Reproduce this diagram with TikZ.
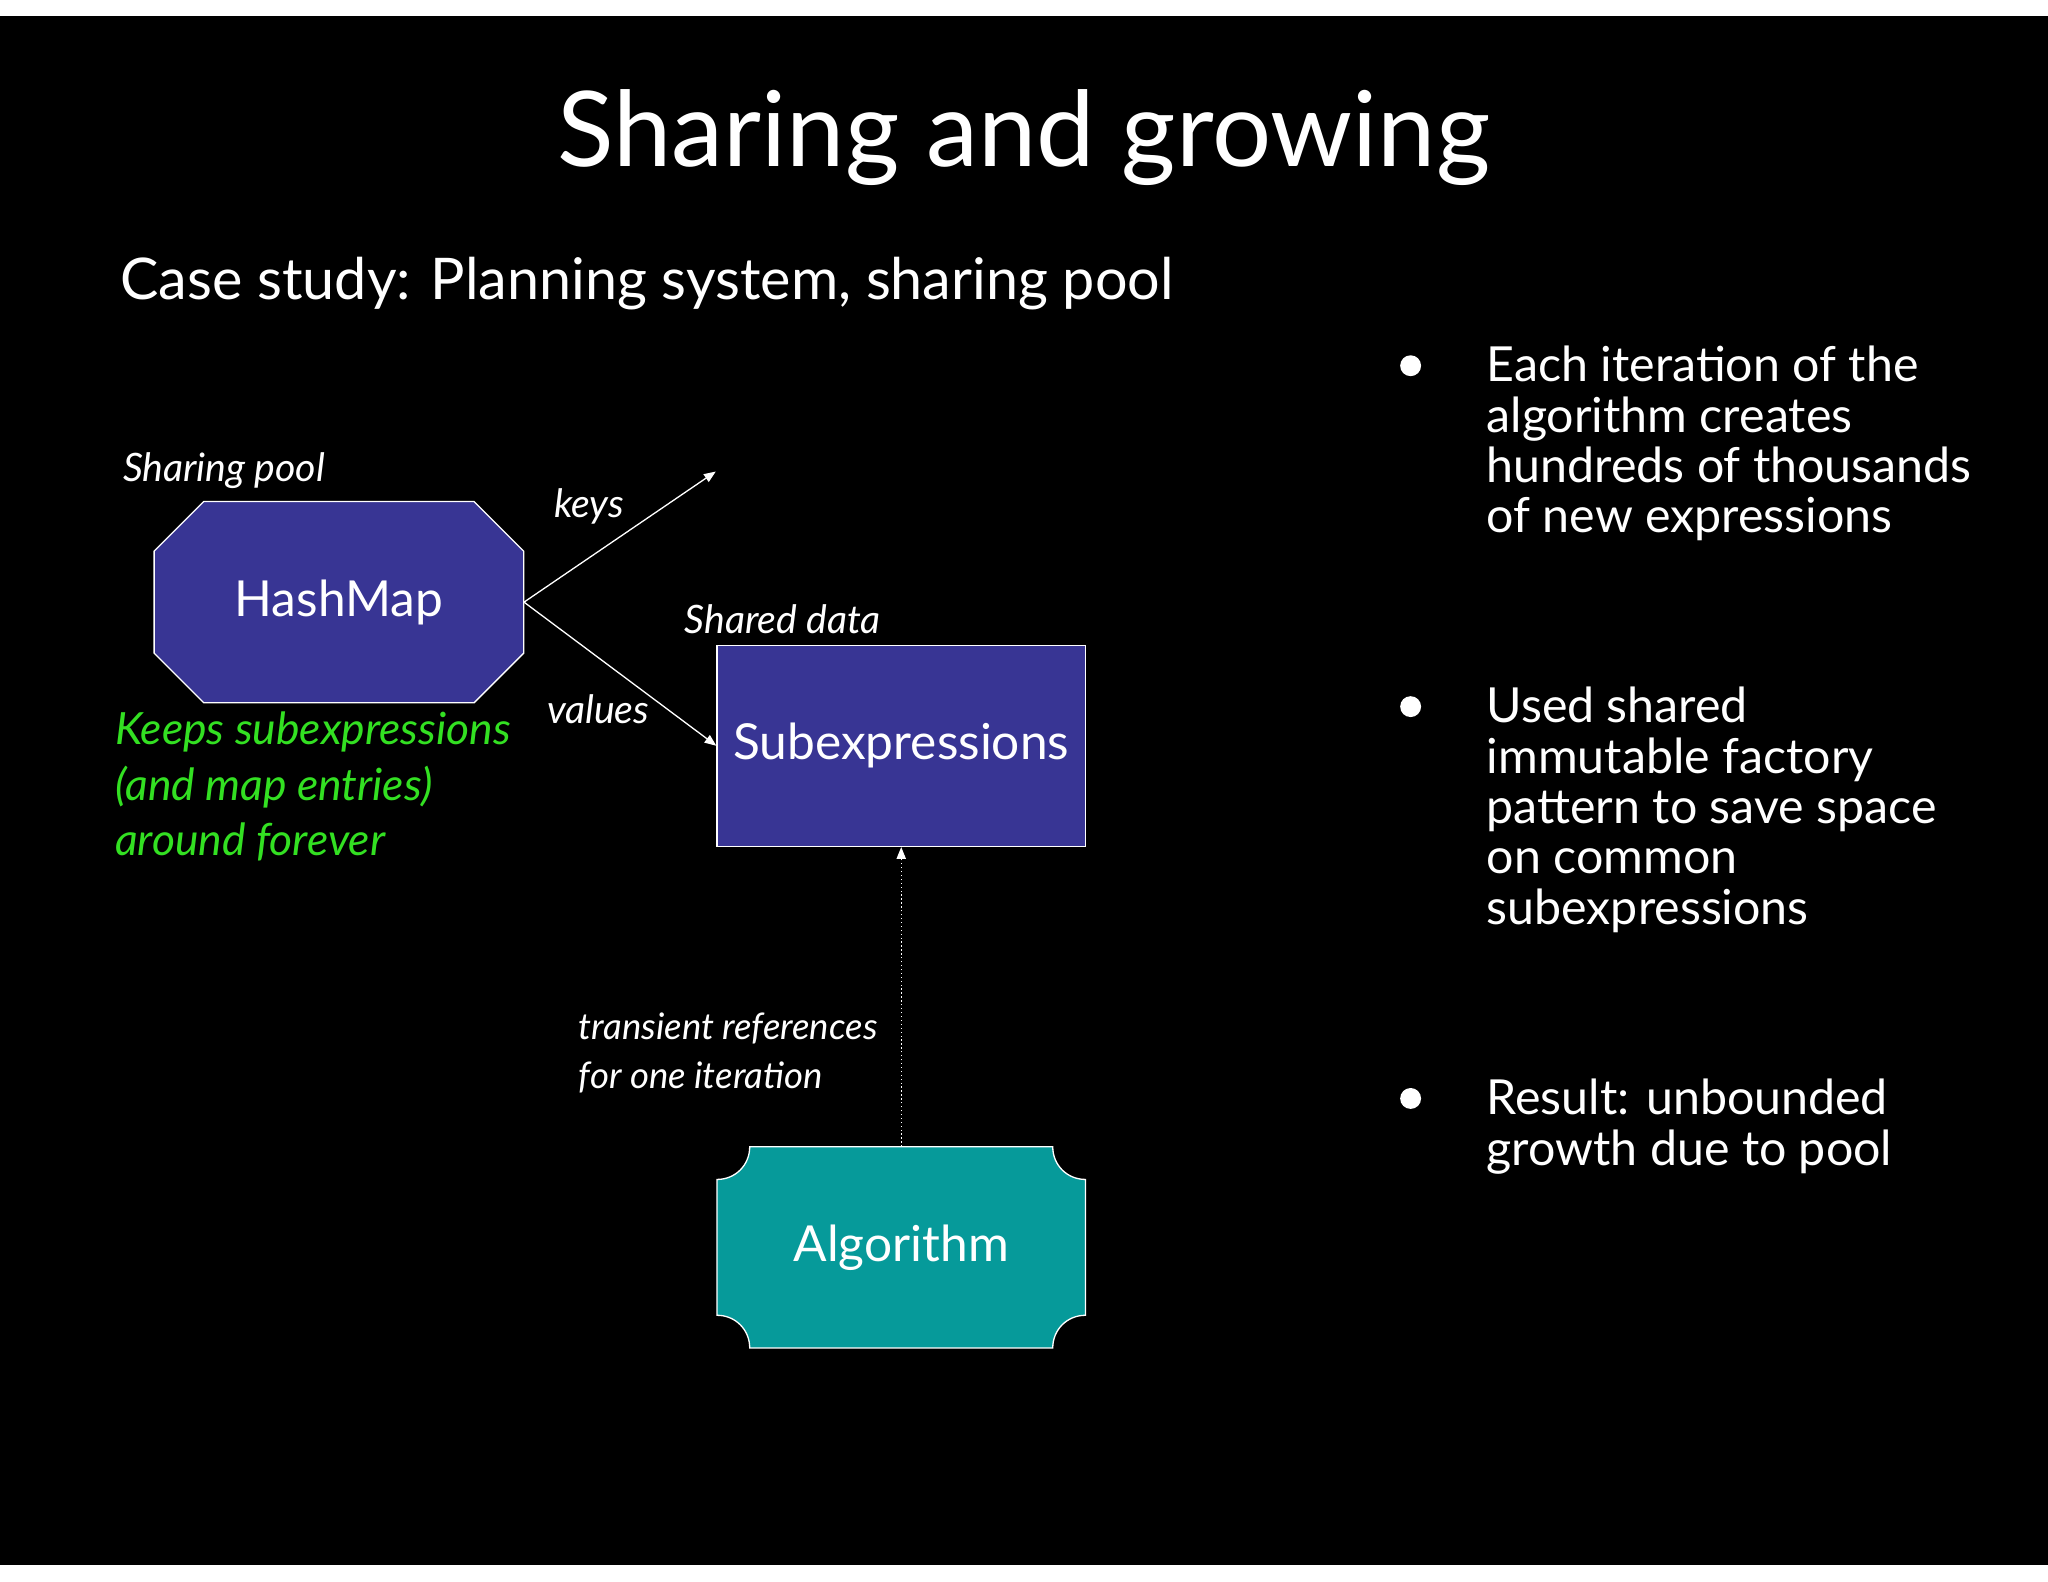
\documentclass[tikz,border=0pt]{standalone}
\usepackage{fontspec}
\setmainfont{Lato}
\usetikzlibrary{arrows.meta}
\definecolor{navy}{HTML}{383594}
\definecolor{teal2}{HTML}{069A9A}
\definecolor{grn}{HTML}{33E022}
\begin{document}
\begin{tikzpicture}[x=1pt,y=-1pt,
  lbl/.style={text=white,font=\fontsize{30}{34}\selectfont\itshape,inner sep=0pt},
  bul/.style={text=white,font=\fontsize{37}{38.5}\selectfont,anchor=north west,align=left,inner sep=0pt},
  arr/.style={white,line width=1pt,-{Triangle[length=9pt,width=7pt]}}]
\useasboundingbox (0,0) rectangle (1568,1211);
\fill[white] (0,0) rectangle (1568,1211);
\fill[black] (0,12) rectangle (1568,1198);
\node[text=white,font=\fontsize{80}{80}\selectfont] (title) at (784,105) {Sharing and growing};
\node[text=white,font=\fontsize{44}{44}\selectfont,anchor=west,inner sep=0pt] (sub) at (92,217) {Case study: Planning system, sharing pool};
% HashMap octagon
\draw[white,fill=navy,line width=1pt] (156,384)--(363,384)--(401,422)--(401,500)--(363,538)--(156,538)--(118,500)--(118,422)--cycle;
\node[text=white,font=\fontsize{38}{38}\selectfont,minimum width=283pt,minimum height=154pt,inner sep=0pt] (hm) at (259.5,461) {HashMap};
\node[lbl,anchor=west] (sp) at (94,360) {Sharing pool};
% Subexpressions
\node[draw=white,fill=navy,line width=1pt,text=white,font=\fontsize{38}{38}\selectfont,minimum width=282pt,minimum height=154pt,inner sep=0pt] (se) at (690,571) {Subexpressions};
\node[lbl,anchor=west] (sd) at (524,474) {Shared data};
\coordinate (kend) at (548,361);
\draw[arr] (hm.east) -- (kend);
\draw[arr] (hm.east) -- (se.west);
\node[lbl] (keys) at (451,388) {keys};
\node[lbl] (vals) at (458,543) {values};
% green
\node[text=grn,font=\fontsize{34}{42.5}\selectfont\itshape,anchor=north west,align=left,inner sep=0pt] (gr) at (88,545) {Keeps subexpressions\\(and map entries)\\around forever};
% Algorithm
\draw[white,fill=teal2,line width=1pt] (574,878)--(806,878) .. controls (806,892) and (817,903) .. (831,903)
  --(831,1007) .. controls (817,1007) and (806,1018) .. (806,1032)
  --(574,1032) .. controls (574,1018) and (563,1007) .. (549,1007)
  --(549,903) .. controls (563,903) and (574,892) .. (574,878)--cycle;
\node[text=white,font=\fontsize{38}{38}\selectfont,minimum width=282pt,minimum height=154pt,inner sep=0pt] (alg) at (690,955) {Algorithm};
\draw[arr,dotted] (alg.north) -- (se.south);
\node[lbl,anchor=north west,align=left,font=\fontsize{28}{38}\selectfont\itshape] (tr) at (443,775) {transient references\\for one iteration};
% bullets
\foreach \y/\n in {280/d1,541/d2,841/d3} \fill[white] (1080,\y) circle (8) coordinate (\n);
\node[bul] (b1) at (1138,265) {Each iteration of the\\algorithm creates\\hundreds of thousands\\of new expressions};
\node[bul] (b2) at (1138,526) {Used shared\\immutable factory\\pattern to save space\\on common\\subexpressions};
\node[bul] (b3) at (1138,826) {Result: unbounded\\growth due to pool};
\end{tikzpicture}
\end{document}
